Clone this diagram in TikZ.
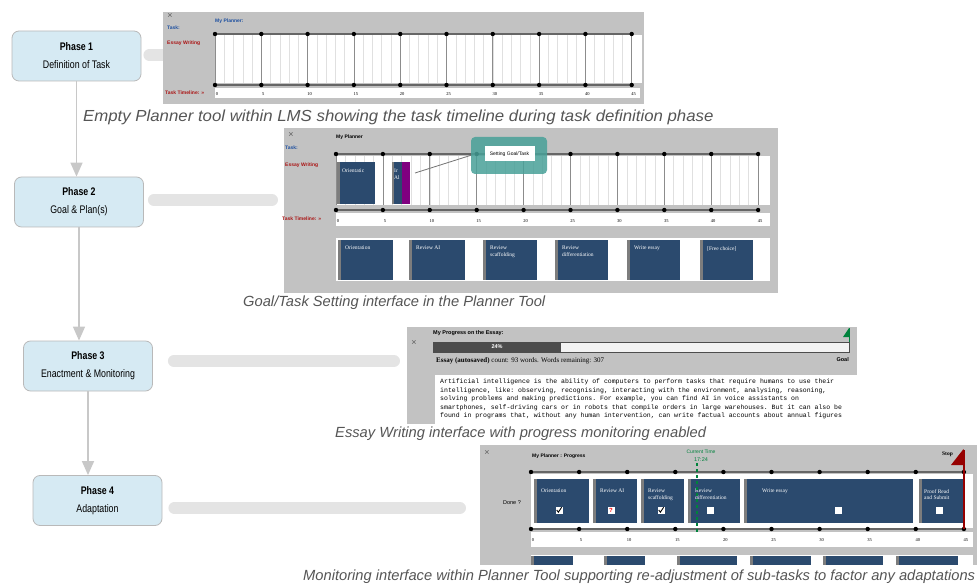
\documentclass[tikz,border=0pt]{standalone}
\usepackage{fontspec}
\setmainfont{Liberation Serif}
\setsansfont{Liberation Sans}
\setmonofont{Liberation Mono}
\newfontfamily\narrowsf[FakeStretch=0.8]{Liberation Sans}
\newfontfamily\widesf[FakeStretch=1.05]{Liberation Sans}
\usetikzlibrary{arrows.meta,positioning}
\pgfdeclarelayer{background}
\pgfsetlayers{background,main}

\begin{document}
\begin{tikzpicture}[x=1pt,y=-1pt,
    phase/.style={draw=boxedge,fill=phaseblue,rounded corners=7pt,line width=0.8pt,
      minimum width=129pt,minimum height=50pt,align=center,
      font=\narrowsf\fontsize{11}{18}\selectfont},
    flow/.style={draw=flowgrey,line width=1.5pt,-{Triangle[width=12pt,length=14pt]}},
    bar/.style={draw=bargrey,line width=12pt,line cap=round},
    shot/.style={fill=shotgrey,inner sep=0pt,anchor=north west},
    caption/.style={font=\sffamily\itshape\fontsize{14.7}{16}\selectfont,text=capgrey,
      anchor=west,inner sep=0pt},
    ptext/.style={font=\sffamily\bfseries\fontsize{5}{6}\selectfont,inner sep=0pt,anchor=west},
    cross/.style={font=\sffamily\fontsize{9}{9}\selectfont,text=crossgrey,inner sep=0pt},
    ticknum/.style={font=\fontsize{4.5}{5}\selectfont,inner sep=0pt},
    tasklabel/.style={font=\fontsize{5.5}{6.5}\selectfont,text=white,align=left,
      anchor=north west,inner sep=0pt},
    minortick/.style={draw=black!12,line width=0.5pt},
    majortick/.style={draw=black!45,line width=0.7pt},
    axis/.style={draw=black!60,line width=1.2pt}
  ]
  % Define colours
  \definecolor{phaseblue}{RGB}{214,234,243}
  \definecolor{boxedge}{RGB}{185,185,185}
  \definecolor{flowgrey}{RGB}{200,200,200}
  \definecolor{bargrey}{RGB}{228,228,228}
  \definecolor{shotgrey}{RGB}{194,194,194}
  \definecolor{capgrey}{RGB}{85,85,85}
  \definecolor{crossgrey}{RGB}{95,95,95}
  \definecolor{taskblue}{RGB}{43,74,110}
  \definecolor{stripgrey}{RGB}{125,125,125}
  \definecolor{plannerblue}{RGB}{30,80,160}
  \definecolor{plannerred}{RGB}{170,20,20}
  \definecolor{tealbox}{RGB}{72,160,152}
  \definecolor{purplebox}{RGB}{128,0,128}
  \definecolor{markgreen}{RGB}{0,130,60}
  \definecolor{flagred}{RGB}{150,0,0}
  % Fix the page size
  \useasboundingbox (0,0) rectangle (977,585);

  % Draw the phase boxes
  \node[phase] (p1) at (76.5,56) {\textbf{Phase 1}\\Definition of Task};
  \node[phase] (p2) at (79,202) {\textbf{Phase 2}\\Goal \& Plan(s)};
  \node[phase] (p3) at (88,366) {\textbf{Phase 3}\\Enactment \& Monitoring};
  \node[phase] (p4) at (97.5,500.5) {\textbf{Phase 4}\\Adaptation};

  % Draw the arrows between the phases
  \draw[flow] (p1.south) -- (p1.south |- p2.north);
  \draw[flow] (p2.south) -- (p2.south |- p3.north);
  \draw[flow] (p3.south) -- (p3.south |- p4.north);

  % Draw the screenshot panels
  \node[shot,minimum width=481pt,minimum height=92pt] (s1) at (163,12) {};
  \node[shot,minimum width=494pt,minimum height=165pt] (s2) at (284,128) {};
  \node[shot,minimum width=450pt,minimum height=97pt] (s3) at (407,327) {};
  \node[shot,minimum width=497pt,minimum height=120pt] (s4) at (480,445) {};

  % Draw the links from the phases to the panels
  \begin{pgfonlayer}{background}
    \draw[bar,shorten <=8pt] (p1.east |- 0,55) -- (s1.west |- 0,55);
    \draw[bar,shorten <=10pt,shorten >=12pt] (p2.east |- 0,200) -- (s2.west |- 0,200);
    \draw[bar,shorten <=21pt,shorten >=13pt] (p3.east |- 0,361) -- (s3.west |- 0,361);
    \draw[bar,shorten <=12pt,shorten >=20pt] (p4.east |- 0,508) -- (s4.west |- 0,508);
  \end{pgfonlayer}

  % Panel 1: the empty planner
  \node[cross] at (170,16) {×};
  \node[ptext,text=plannerblue] at (215,21) {My Planner:};
  \node[ptext,text=plannerblue] at (167,28) {Task:};
  \node[ptext,text=plannerred] at (167,43) {Essay Writing};
  \node[ptext,text=plannerred] at (165,93) {Task Timeline: >>};
  \fill[white] (215,35) rectangle (642,83);
  \fill[white] (215,88) rectangle (640,98);
  \foreach \i in {0,...,45} {
    \draw[minortick] (215+\i*9.26,35) -- (215+\i*9.26,83);
  }
  \draw[axis] (215,34) -- (632,34);
  \draw[axis] (215,85) -- (632,85);
  \foreach \i [evaluate=\i as \lab using int(5*\i)] in {0,...,9} {
    \draw[majortick] (215+\i*46.3,35) -- (215+\i*46.3,83);
    \fill (215+\i*46.3,34) circle (2.2pt);
    \fill (215+\i*46.3,85) circle (2.2pt);
    \node[ticknum] at (217+\i*46.3,94) {\lab};
  }

  % Panel 2: goal and task setting
  \node[cross] at (291,135) {×};
  \node[ptext,text=black] at (336,137) {My Planner};
  \node[ptext,text=plannerblue] at (285,148) {Task:};
  \node[ptext,text=plannerred] at (285,165) {Essay Writing};
  \node[ptext,text=plannerred] at (282,219) {Task Timeline: >>};
  \fill[white] (336,156) rectangle (770,205);
  \fill[white] (336,213) rectangle (770,226);
  \foreach \i in {0,...,45} {
    \draw[minortick] (336+\i*9.38,156) -- (336+\i*9.38,205);
  }
  \draw[axis] (336,154) -- (758,154);
  \draw[axis] (336,210) -- (758,210);
  \foreach \i [evaluate=\i as \lab using int(5*\i)] in {0,...,9} {
    \draw[majortick] (336+\i*46.9,156) -- (336+\i*46.9,205);
    \fill (336+\i*46.9,154) circle (2.2pt);
    \fill (336+\i*46.9,210) circle (2.2pt);
    \node[ticknum] at (338+\i*46.9,221) {\lab};
  }
  % tasks already placed on the timeline
  \fill[taskblue] (337,162) rectangle (375,204);
  \fill[stripgrey] (337,162) rectangle (340,204);
  \node[tasklabel] at (342,169) {Orientatic};
  \fill[taskblue] (392,162) rectangle (402,204);
  \fill[stripgrey] (392,162) rectangle (394,204);
  \begin{scope}
    \clip (394,162) rectangle (402,204);
    \node[tasklabel] at (394,169) {Ir\\Al};
  \end{scope}
  \fill[purplebox] (402,162) rectangle (410,204);
  % callout for the goal setting step
  \draw[black!55,line width=0.8pt] (415,173) -- (475,154);
  \fill[tealbox,opacity=0.85,rounded corners=4pt] (471,137) rectangle (547,174);
  \node[fill=white,inner sep=2pt,font=\sffamily\fontsize{5}{6}\selectfont,
    minimum width=50pt,minimum height=15pt] (goal) at (509.5,154) {Setting Goal/Task};
  % the task cards below the timeline
  \fill[white] (336,238) rectangle (770,281);
  \foreach \xa/\xb/\lab in {338/393/Orientation,409/465/Review AI,483/537/{Review\\scaffolding},
      555/608/{Review\\differentiation},627/680/Write essay,700/753/[Free choice]} {
    \fill[taskblue] (\xa,240) rectangle (\xb,280);
    \fill[stripgrey] (\xa,240) rectangle (\xa+3,280);
    \node[tasklabel] at (\xa+7,246) {\lab};
  }

  % Panel 3: essay writing with progress
  \node[cross] at (414,343) {×};
  \node[ptext,text=black,font=\sffamily\bfseries\fontsize{5.5}{6}\selectfont] at (433,333)
    {My Progress on the Essay:};
  \fill[black!70] (433,342) rectangle (561,352);
  \fill[black!5] (561,342) rectangle (849,352);
  \draw[black!70,line width=1pt] (433,342) rectangle (849,352);
  \node[font=\sffamily\bfseries\fontsize{5.5}{6}\selectfont,text=white,inner sep=0pt] at (497,347) {24\%};
  \draw[markgreen,line width=1pt] (849,328) -- (849,342);
  \fill[markgreen] (849,328) -- (843,337) -- (849,337) -- cycle;
  \node[ptext,anchor=east,font=\sffamily\bfseries\fontsize{5.5}{6}\selectfont] at (849,360) {Goal};
  \node[ptext,font=\fontsize{7}{8}\selectfont] at (436,361)
    {\textbf{Essay (autosaved)} count: 93 words. Words remaining: 307};
  \fill[white] (435,375) rectangle (857,424);
  \node[anchor=north west,inner sep=0pt,align=left,font=\ttfamily\fontsize{6.5}{8.4}\selectfont] at (440,379)
    {Artificial intelligence is the ability of computers to perform tasks that require humans to use their\\
     intelligence, like: observing, recognising, interacting with the environment, analysing, reasoning,\\
     solving problems and making predictions. For example, you can find AI in voice assistants on\\
     smartphones, self-driving cars or in robots that compile orders in large warehouses. But it can also be\\
     found in programs that, without any human intervention, can write factual accounts about annual figures};

  % Panel 4: monitoring progress
  \node[cross] at (487,453) {×};
  \node[ptext,text=black] at (532,456) {My Planner : Progress};
  \node[font=\sffamily\fontsize{5}{6}\selectfont,text=markgreen,inner sep=0pt] at (701,452) {Current Time};
  \node[font=\sffamily\fontsize{5.5}{6}\selectfont,text=markgreen,inner sep=0pt] at (701,460) {17:24};
  \node[ptext,anchor=east,font=\fontsize{5.5}{6}\selectfont\bfseries] at (953,454) {Stop};
  \node[font=\sffamily\fontsize{5.5}{6}\selectfont,inner sep=0pt] at (512,503) {Done ?};
  \fill[white] (531,474) rectangle (973,528);
  \fill[white] (531,532) rectangle (973,547);
  \draw[axis] (531,472) -- (964,472);
  \draw[axis] (531,529) -- (964,529);
  \foreach \xa/\xb/\dx/\lab in {534/589/7/Orientation,593/637/7/Review AI,641/684/7/{Review\\scaffolding},
      688/740/7/{Review\\differentiation},744/913/18/Write essay,919/963/5/{Proof Read\\and Submit}} {
    \fill[taskblue] (\xa,479) rectangle (\xb,523);
    \fill[stripgrey] (\xa,479) rectangle (\xa+3,523);
    \node[tasklabel] at (\xa+\dx,489) {\lab};
  }
  % the done boxes
  \foreach \cx in {559,611,661,710,838,939} {
    \fill[white] (\cx-3.5,506.5) rectangle (\cx+3.5,513.5);
  }
  \foreach \cx in {559,661} {
    \draw[black,line width=0.9pt] (\cx-2.3,510) -- (\cx-0.6,512.2) -- (\cx+2.6,507.3);
  }
  \node[text=red,font=\sffamily\bfseries\fontsize{6}{6}\selectfont,inner sep=0pt] at (611,510) {?};
  \foreach \i [evaluate=\i as \lab using int(5*\i)] in {0,...,9} {
    \fill (531+\i*48.1,472) circle (2.2pt);
    \fill (531+\i*48.1,529) circle (2.2pt);
    \node[ticknum] at (533+\i*48.1,540) {\lab};
  }
  % current time marker and stop flag
  \draw[markgreen,dashed,line width=1.2pt] (697,463) -- (697,532);
  \draw[flagred,line width=1.5pt] (964,450) -- (964,529);
  \fill[flagred] (963.5,449) -- (951,465) -- (964.5,465) -- cycle;
  % cards below, cut off
  \fill[white] (531,555) rectangle (973,565);
  \foreach \xa/\xb in {534/573,607/645,680/737,753/811,826/883,899/958} {
    \fill[taskblue] (\xa,556) rectangle (\xb,565);
    \fill[stripgrey] (\xa-3,556) rectangle (\xa,565);
  }

  % Draw the captions
  \node[caption,font=\widesf\itshape\fontsize{16}{18}\selectfont] (c1) at (83,117)
    {Empty Planner tool within LMS showing the task timeline during task definition phase};
  \node[caption] (c2) at (243,303) {Goal/Task Setting interface in the Planner Tool};
  \node[caption] (c3) at (335,434) {Essay Writing interface with progress monitoring enabled};
  \node[caption] (c4) at (303,577) {Monitoring interface within Planner Tool supporting re-adjustment of sub-tasks to factor any adaptations};
\end{tikzpicture}
\end{document}
